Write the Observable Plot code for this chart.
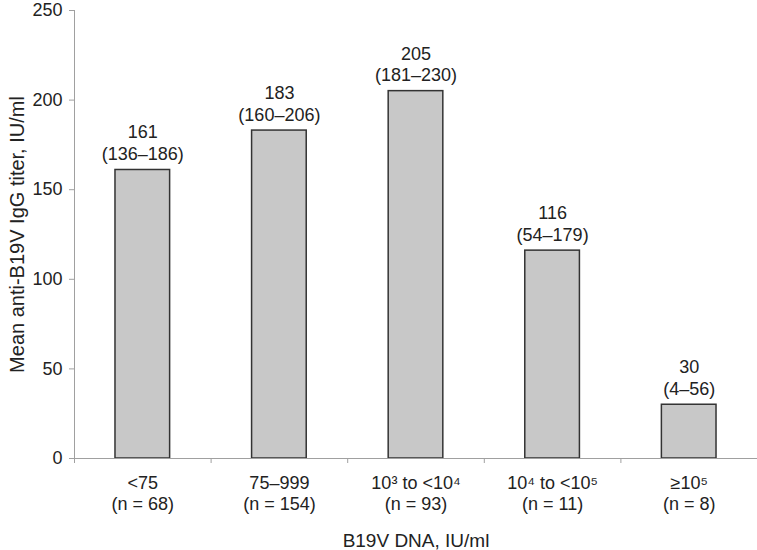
<!DOCTYPE html>
<html>
<head>
<meta charset="utf-8">
<script src="https://cdn.jsdelivr.net/npm/d3@7"></script>
<script src="https://cdn.jsdelivr.net/npm/@observablehq/plot@0.6"></script>
<style>
  html, body { margin: 0; padding: 0; background: #fff; }
  svg { font-family: "Liberation Sans", Arial, sans-serif; }
</style>
</head>
<body>
<div id="chart"></div>
<script>
const categories = ["<75", "75–999", "10³ to <10⁴", "10⁴ to <10⁵", "≥10⁵"];
const groupN = [68, 154, 93, 11, 8];
const meanTiter = [161, 183, 205, 116, 30];
const ciLow = [136, 160, 181, 54, 4];
const ciHigh = [186, 206, 230, 179, 56];
const yTicks = [0, 50, 100, 150, 200, 250];
const xTitle = "B19V DNA, IU/ml";
const yTitle = "Mean anti-B19V IgG titer, IU/ml";

const data = categories.map((c, i) => ({
  i, cat: c, n: groupN[i], v: meanTiter[i], lo: ciLow[i], hi: ciHigh[i]
}));
const half = 0.2;
const boundaries = d3.range(-0.5, categories.length, 1);

const chart = Plot.plot({
  width: 757,
  height: 550,
  marginLeft: 74,
  marginRight: 0,
  marginTop: 10,
  marginBottom: 92,
  style: { fontFamily: "Liberation Sans, Arial, sans-serif", fontSize: "18px", color: "#222" },
  x: { domain: [-0.5, categories.length - 0.5] },
  y: { domain: [0, 250] },
  marks: [
    Plot.rectY(data, {
      x1: d => d.i - half, x2: d => d.i + half, y: "v",
      fill: "#c8c8c8", stroke: "#333", strokeWidth: 1.5
    }),
    Plot.text(data, {
      x: "i", y: "v",
      text: d => `${d.v}\n(${d.lo}–${d.hi})`,
      lineAnchor: "bottom", lineHeight: 1.2, dy: -10,
      fontSize: 18, fill: "#222"
    }),
    Plot.ruleY([0], { stroke: "#a0a0a0" }),
    Plot.ruleX([-0.5], { stroke: "#a0a0a0" }),
    Plot.axisY({
      ticks: yTicks, tickSize: 5, tickPadding: 7, stroke: "#a0a0a0",
      fontSize: 18, fill: "#222", label: null
    }),
    Plot.axisX({
      ticks: boundaries, tickSize: 5, tickFormat: () => "", stroke: "#a0a0a0",
      label: null
    }),
    Plot.axisX({
      ticks: d3.range(categories.length), tickSize: 0, tickPadding: 16,
      tickFormat: i => `${categories[i]}\n(n = ${groupN[i]})`,
      lineHeight: 1.15, fontSize: 18, fill: "#222", label: null
    }),
    Plot.text([yTitle], {
      frameAnchor: "left", rotate: -90, dx: -57, lineAnchor: "middle",
      textAnchor: "middle", text: d => d, fontSize: 20, fill: "#222"
    }),
    Plot.text([xTitle], {
      frameAnchor: "bottom", dy: 82, lineAnchor: "middle",
      textAnchor: "middle", text: d => d, fontSize: 19, fill: "#222"
    })
  ]
});
document.getElementById("chart").appendChild(chart);
</script>
</body>
</html>
